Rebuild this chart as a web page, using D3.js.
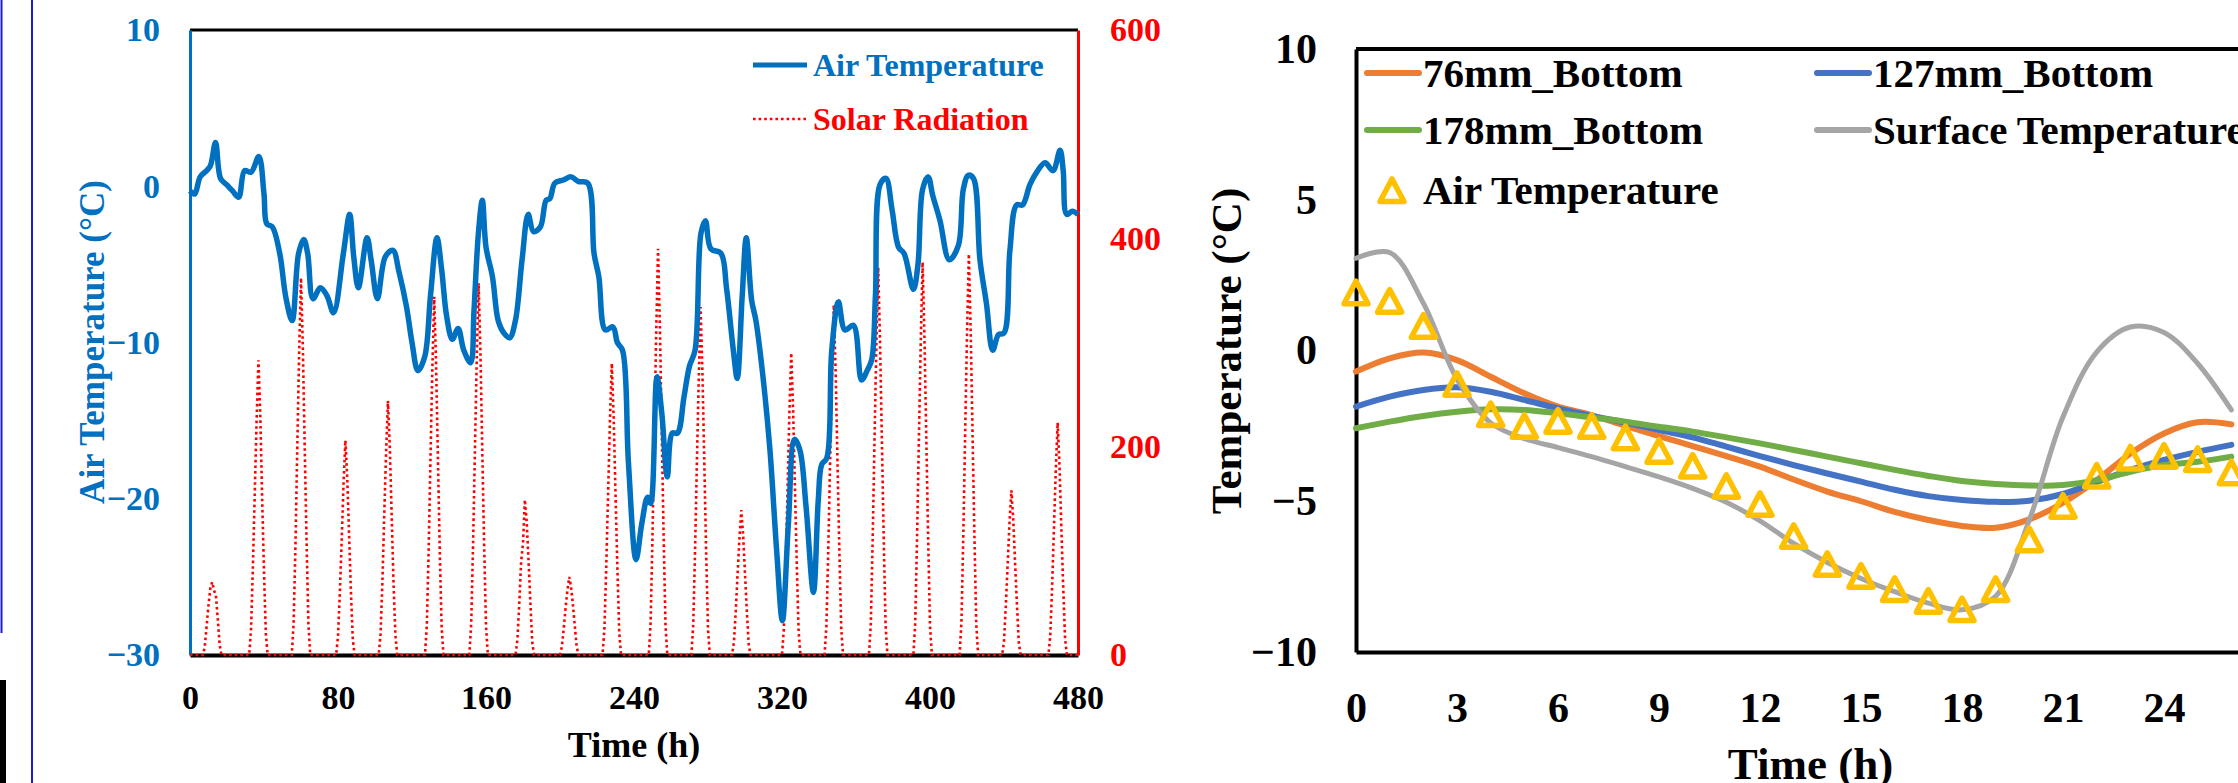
<!DOCTYPE html>
<html>
<head>
<meta charset="utf-8">
<title>Air temperature, solar radiation and pavement temperatures</title>
<script src="https://cdn.jsdelivr.net/npm/d3@7"></script>
<style>
  body { margin: 0; background: #fff; }
  svg text { font-family: "Liberation Serif", "Times New Roman", serif; font-weight: bold; }
</style>
</head>
<body>
<svg width="2238" height="783"></svg>
<script>
// ---- left panel: 20 days of air temperature and solar radiation ----
// [hour, °C]
const airTemperature = [
  [0,-0.3],[2.5,-0.5],[5.5,0.6],[9,1.0],[11,1.3],[13.8,2.8],[16.5,0.5],[19.8,0.1],[23,-0.3],[26.3,-0.7],
  [29.5,1.0],[33,0.9],[37.2,1.9],[40,-0.5],[41.5,-2.4],[44.5,-2.6],[48.5,-4.3],[51.8,-7.1],[55.2,-8.6],[58.7,-4.3],
  [61.5,-3.4],[63.6,-4.3],[66.5,-7.2],[70.4,-6.5],[74,-7.0],[77.6,-8.1],[82.9,-4.3],[86.3,-1.8],[88.5,-4.5],[91,-6.5],
  [95.7,-3.3],[98,-4.8],[101.3,-7.2],[105.6,-4.5],[109.7,-4.1],[113,-5.5],[117,-7.7],[120,-10],[123.2,-11.8],[126.9,-10.9],
  [130,-7],[133.5,-3.3],[136,-5.3],[138.7,-8.3],[141.8,-9.8],[144.9,-9.1],[148,-10.5],[151.7,-11.3],[153.5,-8],[155.9,-3.0],
  [158,-0.9],[160,-3.9],[163.5,-5.8],[166.6,-8.6],[169.7,-9.4],[172.8,-9.7],[175.9,-8.6],[179.5,-4.7],[182.8,-1.8],[185.7,-2.9],
  [189.4,-2.6],[192.5,-0.9],[194.5,-0.8],[197.2,0.2],[201.8,0.4],[206,0.6],[210,0.3],[215,0.2],[218.4,-4.3],[221,-5.8],
  [224.5,-9.2],[228.6,-9.0],[231,-10],[233.8,-10.5],[237,-17.7],[241.1,-23.9],[244.2,-21.6],[247.3,-19.9],[249,-20.3],[252.4,-12.2],
  [255,-14.5],[258,-18.6],[260.7,-15.8],[263.5,-15.8],[267,-13.5],[270,-11.5],[273,-10.5],[276.2,-3.0],[278.6,-2.2],[281.5,-4.0],
  [287,-4.3],[290,-6.5],[293.7,-10.5],[295.8,-12.3],[298.5,-7],[300.7,-3.3],[303.6,-7.3],[305.9,-8.6],[310,-12.5],[313.5,-16.9],
  [317.1,-23.3],[320.2,-27.8],[323.4,-21.7],[326.8,-16.2],[329.7,-16.9],[333,-20.5],[337,-26],[339.6,-20.1],[341.5,-17.8],[344.2,-17.4],
  [346.9,-10.5],[350.5,-7.4],[354,-9.2],[358.6,-8.9],[363,-12.4],[366,-11.8],[368.5,-11.1],[370.5,-7],[373,0.1],[376.2,0.5],
  [379.5,-1.5],[383,-3.9],[386,-4.3],[391,-6.6],[393.5,-5],[396,-0.2],[399,0.6],[401.5,-0.6],[405.4,-2.2],[410.4,-4.7],
  [415.3,-3.8],[418,-0.2],[420.7,0.7],[423.5,0.5],[427,-4.7],[430.5,-7.5],[433.9,-10.5],[437,-9.5],[440,-9.4],[443.2,-4.1],
  [446.8,-1.2],[450,-1.2],[454,0.1],[457.7,0.9],[462.2,1.5],[466.5,1.0],[470.3,2.3],[472,1],[473.9,-1.8],[477,-1.6],[480,-1.8]
];

// first hour of each day's daylight, and the hourly W/m² values that follow
const solarStart = [7, 32, 55, 79, 102, 127, 151, 176, 200, 223, 248, 271, 293, 320, 343, 367, 391, 416, 439, 464];
const solarDays = [
  [0, 8, 28, 48, 64, 70, 62, 57, 35, 10, 0],
  [0, 25, 85, 155, 225, 283, 230, 150, 80, 20, 0],
  [0, 30, 105, 200, 290, 362, 295, 200, 110, 30, 0],
  [0, 18, 60, 110, 165, 206, 170, 115, 60, 15, 0],
  [0, 20, 70, 135, 195, 244, 200, 135, 70, 20, 0],
  [0, 28, 100, 190, 275, 344, 280, 190, 100, 28, 0],
  [0, 30, 105, 195, 285, 357, 290, 195, 105, 28, 0],
  [0, 15, 50, 90, 107, 149, 128, 90, 50, 12, 0],
  [0, 8, 25, 45, 62, 75, 65, 48, 28, 8, 0],
  [0, 25, 85, 155, 225, 280, 228, 155, 85, 22, 0],
  [0, 32, 115, 215, 310, 390, 315, 215, 115, 30, 0],
  [0, 28, 100, 185, 265, 334, 270, 185, 98, 25, 0],
  [0, 12, 42, 78, 112, 139, 115, 78, 42, 10, 0],
  [0, 25, 88, 160, 232, 290, 236, 160, 86, 22, 0],
  [0, 28, 100, 185, 268, 336, 272, 185, 100, 26, 0],
  [0, 30, 110, 205, 298, 372, 300, 205, 110, 28, 0],
  [0, 30, 112, 208, 300, 377, 305, 208, 112, 28, 0],
  [0, 32, 115, 212, 308, 385, 310, 212, 115, 30, 0],
  [0, 13, 48, 88, 128, 158, 130, 88, 48, 12, 0],
  [0, 18, 65, 122, 178, 223, 182, 122, 65, 16, 0]
];

const leftTempTicks = [10, 0, -10, -20, -30];
const solarTicks = [0, 200, 400, 600];
const leftTimeTicks = [0, 80, 160, 240, 320, 400, 480];

// ---- right panel: one day of pavement temperatures ----
const hours = [0,1,2,3,4,5,6,7,8,9,10,11,12,13,14,15,16,17,18,19,20,21,22,23,24,25,26];
const bottom76 = [-0.7,-0.26,-0.07,-0.32,-0.87,-1.42,-1.86,-2.14,-2.5,-2.84,-3.17,-3.5,-3.85,-4.28,-4.68,-5.0,-5.35,-5.62,-5.82,-5.88,-5.6,-5.05,-4.3,-3.42,-2.75,-2.38,-2.45];
const bottom127 = [-1.86,-1.53,-1.31,-1.22,-1.37,-1.64,-1.92,-2.17,-2.39,-2.64,-2.88,-3.19,-3.5,-3.8,-4.08,-4.35,-4.62,-4.83,-4.96,-5.02,-4.98,-4.76,-4.36,-3.96,-3.63,-3.36,-3.13];
const bottom178 = [-2.58,-2.36,-2.17,-2.03,-1.95,-1.97,-2.08,-2.22,-2.36,-2.53,-2.69,-2.88,-3.08,-3.3,-3.52,-3.74,-3.96,-4.16,-4.33,-4.43,-4.48,-4.46,-4.3,-4.02,-3.8,-3.69,-3.52];
const surfaceTemp = [3.06,3.25,1.57,-0.95,-2.4,-2.92,-3.22,-3.52,-3.85,-4.19,-4.57,-5.03,-5.65,-6.4,-7.03,-7.56,-8.0,-8.38,-8.6,-8.15,-5.62,-2.2,-0.05,0.78,0.6,-0.43,-1.97];
const airTempDay = [1.9,1.62,0.79,-1.14,-2.14,-2.53,-2.36,-2.53,-2.91,-3.36,-3.85,-4.52,-5.12,-6.18,-7.11,-7.5,-7.94,-8.33,-8.61,-7.94,-6.29,-5.18,-4.18,-3.58,-3.52,-3.63,-4.07];

const rightTempTicks = [10, 5, 0, -5, -10];
const rightTimeTicks = [0, 3, 6, 9, 12, 15, 18, 21, 24, 27];

const depthSeries = [
  { name: "76mm_Bottom", values: bottom76, color: "#ED7D31" },
  { name: "127mm_Bottom", values: bottom127, color: "#4472C4" },
  { name: "178mm_Bottom", values: bottom178, color: "#70AD47" },
  { name: "Surface Temperature", values: surfaceTemp, color: "#A5A5A5" }
];

const BLUE = "#0070C0", RED = "#FF0000", GOLD = "#FFC000";

let svg = d3.select("svg");

// stray frame lines at the left edge of the screenshot
svg.append("line").attr("x1", 1.5).attr("x2", 1.5).attr("y1", 0).attr("y2", 633)
  .attr("stroke", "#1c1cc8").attr("stroke-width", 2);
svg.append("line").attr("x1", 32).attr("x2", 32).attr("y1", 0).attr("y2", 783)
  .attr("stroke", "#1c1cc8").attr("stroke-width", 2);
svg.append("rect").attr("x", 0).attr("y", 680).attr("width", 6).attr("height", 103).attr("fill", "#000");

// ================= left panel =================
const xL = d3.scaleLinear().domain([0, 480]).range([190, 1078]);
const yL = d3.scaleLinear().domain([-30, 10]).range([655, 30]);
const yS = d3.scaleLinear().domain([0, 600]).range([655, 30]);

function styleAxis(g, size, color, width, lineColor) {
  g.attr("font-size", size).attr("font-family", null);
  g.select(".domain").attr("stroke", lineColor).attr("stroke-width", width);
  g.selectAll(".tick line").remove();
  g.selectAll(".tick text").attr("fill", color);
}

let left = svg.append("g");

// top frame
left.append("line").attr("x1", xL(0)).attr("x2", xL(480)).attr("y1", yL(10)).attr("y2", yL(10))
  .attr("stroke", "#000").attr("stroke-width", 3);

left.append("g").attr("transform", `translate(0,${yL(-30)})`)
  .call(d3.axisBottom(xL).tickValues(leftTimeTicks).tickSize(0).tickSizeOuter(0).tickPadding(30))
  .call(g => styleAxis(g, 34, "#000", 4, "#000"));

left.append("g").attr("transform", `translate(${xL(0)},0)`)
  .call(d3.axisLeft(yL).tickValues(leftTempTicks).tickSize(0).tickSizeOuter(0).tickPadding(30))
  .call(g => styleAxis(g, 34, BLUE, 3, BLUE));

left.append("g").attr("transform", `translate(${xL(480)},0)`)
  .call(d3.axisRight(yS).tickValues(solarTicks).tickSize(0).tickSizeOuter(0).tickPadding(32))
  .call(g => styleAxis(g, 34, RED, 3, RED));

// hourly solar series: zero at night, daylight values from solarDays
let solarHourly = d3.range(0, 481).map(h => [h, 0]);
solarStart.forEach((s, i) => {
  solarDays[i].forEach((v, k) => { solarHourly[s + k][1] = v; });
});

left.append("path").datum(solarHourly)
  .attr("fill", "none").attr("stroke", RED).attr("stroke-width", 2.6)
  .attr("stroke-dasharray", "2.6 3")
  .attr("d", d3.line().x(d => xL(d[0])).y(d => yS(d[1])));

left.append("path").datum(airTemperature)
  .attr("fill", "none").attr("stroke", BLUE).attr("stroke-width", 5.5).attr("stroke-linejoin", "round")
  .attr("d", d3.line().x(d => xL(d[0])).y(d => yL(d[1])).curve(d3.curveCatmullRom.alpha(0.5)));

left.append("text").attr("transform", "translate(92,342) rotate(-90)")
  .attr("text-anchor", "middle").attr("dy", "0.35em").attr("font-size", 35).attr("fill", BLUE)
  .text("Air Temperature (°C)");
left.append("text").attr("x", 634).attr("y", 757).attr("text-anchor", "middle")
  .attr("font-size", 36).attr("fill", "#000").text("Time (h)");

// legend
left.append("line").attr("x1", 753).attr("x2", 807).attr("y1", 65).attr("y2", 65)
  .attr("stroke", BLUE).attr("stroke-width", 5);
left.append("text").attr("x", 813).attr("y", 65).attr("dy", "0.35em").attr("font-size", 32)
  .attr("fill", BLUE).text("Air Temperature");
left.append("line").attr("x1", 753).attr("x2", 807).attr("y1", 119).attr("y2", 119)
  .attr("stroke", RED).attr("stroke-width", 2.6).attr("stroke-dasharray", "2.6 3");
left.append("text").attr("x", 813).attr("y", 119).attr("dy", "0.35em").attr("font-size", 32)
  .attr("fill", RED).text("Solar Radiation");

// ================= right panel =================
const xR = d3.scaleLinear().domain([0, 27]).range([1356, 2265]);
const yR = d3.scaleLinear().domain([-10, 10]).range([652, 49]);

let right = svg.append("g");

right.append("line").attr("x1", xR(0)).attr("x2", xR(27)).attr("y1", yR(10)).attr("y2", yR(10))
  .attr("stroke", "#000").attr("stroke-width", 4);

right.append("g").attr("transform", `translate(0,${yR(-10)})`)
  .call(d3.axisBottom(xR).tickValues(rightTimeTicks).tickSize(0).tickSizeOuter(0).tickPadding(40))
  .call(g => styleAxis(g, 42, "#000", 4, "#000"));

right.append("g").attr("transform", `translate(${xR(0)},0)`)
  .call(d3.axisLeft(yR).tickValues(rightTempTicks).tickSize(0).tickSizeOuter(0).tickPadding(39))
  .call(g => styleAxis(g, 42, "#000", 4, "#000"));

const lineR = d3.line().x((d, i) => xR(hours[i])).y(d => yR(d)).curve(d3.curveCatmullRom.alpha(0.5));

right.selectAll(".depth").data(depthSeries).join("path")
  .attr("class", "depth")
  .attr("fill", "none")
  .attr("stroke", d => d.color)
  .attr("stroke-width", d => d.name === "Surface Temperature" ? 5 : 6)
  .attr("stroke-linecap", "round")
  .attr("d", d => lineR(d.values));

const triangle = "M0,-12L12,10.5L-12,10.5Z";

right.selectAll(".air").data(airTempDay).join("path")
  .attr("class", "air")
  .attr("transform", (d, i) => `translate(${xR(hours[i])},${yR(d)})`)
  .attr("d", triangle)
  .attr("fill", "none").attr("stroke", GOLD).attr("stroke-width", 5.5).attr("stroke-linejoin", "round");

right.append("text").attr("transform", "translate(1226,351) rotate(-90)")
  .attr("text-anchor", "middle").attr("dy", "0.35em").attr("font-size", 43).attr("fill", "#000")
  .text("Temperature (°C)");
right.append("text").attr("x", xR(13.5)).attr("y", 779).attr("text-anchor", "middle")
  .attr("font-size", 45).attr("fill", "#000").text("Time (h)");

// legend
const legendPos = [[1367, 73], [1817, 73], [1367, 130], [1817, 130]];
depthSeries.forEach((s, i) => {
  const [lx, ly] = legendPos[i];
  right.append("line").attr("x1", lx).attr("x2", lx + 52).attr("y1", ly).attr("y2", ly)
    .attr("stroke", s.color).attr("stroke-width", 6).attr("stroke-linecap", "round");
  right.append("text").attr("x", lx + 56).attr("y", ly).attr("dy", "0.35em")
    .attr("font-size", 41).attr("fill", "#000").text(s.name);
});
right.append("path").attr("transform", "translate(1392,191)").attr("d", triangle)
  .attr("fill", "none").attr("stroke", GOLD).attr("stroke-width", 5.5).attr("stroke-linejoin", "round");
right.append("text").attr("x", 1423).attr("y", 190).attr("dy", "0.35em")
  .attr("font-size", 41).attr("fill", "#000").text("Air Temperature");
</script>
</body>
</html>
